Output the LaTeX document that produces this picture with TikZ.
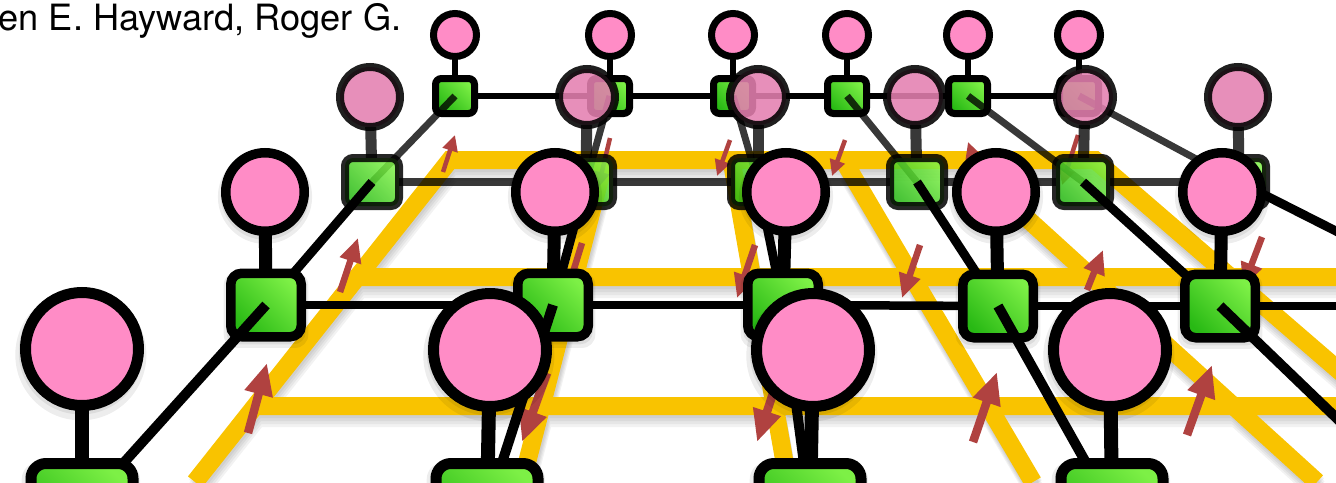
\documentclass[tikz,border=0pt]{standalone}
\usepackage{fontspec}
\setmainfont{TeX Gyre Heros}
\usetikzlibrary{arrows.meta,shadows}
\definecolor{pinkc}{RGB}{255,140,198}
\definecolor{pinkb}{RGB}{228,128,176}
\definecolor{yel}{RGB}{249,195,0}
\definecolor{redc}{RGB}{176,66,64}
\definecolor{gdark}{RGB}{40,185,20}
\definecolor{glight}{RGB}{125,240,70}
\pgfdeclarelayer{yl}
\pgfdeclarelayer{rA}\pgfdeclarelayer{nA}\pgfdeclarelayer{lAB}
\pgfdeclarelayer{rB}\pgfdeclarelayer{nB}\pgfdeclarelayer{lBC}
\pgfdeclarelayer{rC}\pgfdeclarelayer{nC}\pgfdeclarelayer{lCD}
\pgfdeclarelayer{rD}\pgfdeclarelayer{nD}
\pgfsetlayers{yl,rA,nA,lAB,rB,nB,lBC,rC,nC,lCD,rD,nD,main}
\newcommand{\ylat}{(195,482) -- (450,160) -- (1095,160) -- (1468,482)
  (357,277) -- (1360,277) (255,406) -- (1360,406)
  (604,163) -- (522,482) (732,163) -- (788,482)
  (845,163) -- (1033,482) (966,163) -- (1317,482)}
\begin{document}
\begin{tikzpicture}[x=1pt,y=-1pt,
  sq/.style={rectangle,draw=black,shading=axis,bottom color=gdark,top color=glight,shading angle=-45,inner sep=0pt,outer sep=0pt},
  ci/.style={circle,draw=black,fill=pinkc,inner sep=0pt,outer sep=0pt},
  shC/.style={general shadow={fill=black,opacity=0.07,shadow scale=1.2,shadow yshift=-4pt},
              general shadow={fill=black,opacity=0.07,shadow scale=1.13,shadow yshift=-3pt}},
  shD/.style={general shadow={fill=black,opacity=0.07,shadow scale=1.16,shadow xshift=-1pt,shadow yshift=-5pt},
              general shadow={fill=black,opacity=0.07,shadow scale=1.1,shadow xshift=-1pt,shadow yshift=-3pt}},
  sqA/.style={sq,minimum width=39pt,minimum height=35pt,line width=7pt,rounded corners=6pt},
  ciA/.style={ci,minimum size=43pt,line width=7pt},
  sqB/.style={sq,minimum width=54pt,minimum height=48pt,line width=8pt,rounded corners=8pt,opacity=0.85},
  ciB/.style={ci,fill=pinkb,minimum size=56pt,line width=8pt,opacity=0.88},
  sqC/.style={sq,minimum width=70.5pt,minimum height=63.5pt,line width=9.5pt,rounded corners=11pt,shC},
  ciC/.style={ci,minimum size=78.5pt,line width=9.5pt,shC},
  sqD/.style={sq,minimum width=102pt,minimum height=91pt,line width=11pt,rounded corners=15pt,shD},
  ciD/.style={ci,minimum size=113pt,line width=11pt,shD},
  rowA/.style={line width=6pt,black},
  stemA/.style={line width=6pt,black},
  lnAB/.style={line width=7pt,black,opacity=0.78},
  rowB/.style={line width=8pt,black,opacity=0.78},
  stemB/.style={line width=11pt,black,opacity=0.78},
  lnBC/.style={line width=9pt,black},
  rowC/.style={line width=8.5pt,black},
  stemC/.style={line width=13pt,black},
  lnCD/.style={line width=10pt,black},
  stemD/.style={line width=14pt,black},
  arrS/.style={draw=redc,line width=4.5pt,-{Triangle[length=16pt,width=15pt]}},
  arrM/.style={draw=redc,line width=6.5pt,-{Triangle[length=24pt,width=21pt]}},
  arrF/.style={draw=redc,line width=8.5pt,-{Triangle[length=32pt,width=27pt]}}
]
\useasboundingbox (0,0) rectangle (1336,482);

% ---------- yellow lattice and arrows
\begin{pgfonlayer}{yl}
\foreach \dx/\dy in {1pt/3pt,1.5pt/6pt,2pt/9pt,2.5pt/12pt}{
  \draw[black,opacity=0.05,line width=18pt,line join=miter,xshift=\dx,yshift=-\dy] \ylat;
}
\draw[yel,line width=18pt,line join=miter] \ylat;
\draw[arrS] (443,172) -- (455,135);
\draw[arrS] (610,138) -- (598,188);
\draw[arrS] (730,140) -- (717,176);
\draw[arrS] (845,140) -- (832,176);
\draw[arrS] (988,200) -- (968,142);
\draw[arrS] (1078,135) -- (1062,185);
\draw[arrM] (340,292) -- (358,238);
\draw[arrM] (582,243) -- (565,298);
\draw[arrM] (755,245) -- (737,298);
\draw[arrM] (920,245) -- (902,298);
\draw[arrM] (1087,290) -- (1103,250);
\draw[arrM] (1262,237) -- (1243,287);
\draw[arrF] (248,433) -- (267,363);
\draw[arrF] (547,373) -- (522,442);
\draw[arrF] (780,372) -- (757,442);
\draw[arrF] (973,442) -- (997,372);
\draw[arrF] (1187,435) -- (1212,365);
\end{pgfonlayer}

% ---------- nodes
\begin{pgfonlayer}{nA}
\foreach \n/\x in {1/455,2/610,3/733,4/847,5/968,6/1079}{
  \node[sqA] (sA\n) at (\x,96) {};
  \node[ciA] (cA\n) at (\x,35) {};
}
\end{pgfonlayer}
\begin{pgfonlayer}{nB}
\node[sqB] (sB1) at (372,182) {};
\node[sqB] (sB2) at (586,182) {};
\node[sqB] (sB3) at (758,182) {};
\node[sqB] (sB4) at (917,182) {};
\node[sqB] (sB5) at (1083,182) {};
\node[sqB] (sB6) at (1239,182) {};
\node[ciB,minimum size=60pt] (cB1) at (370,97) {};
\node[ciB] (cB2) at (587,97) {};
\node[ciB] (cB3) at (758,97) {};
\node[ciB] (cB4) at (915,97) {};
\node[ciB] (cB5) at (1085,97) {};
\node[ciB,minimum size=60pt] (cB6) at (1238,97) {};
\end{pgfonlayer}
\begin{pgfonlayer}{nC}
\node[sqC] (sC1) at (266,305) {};
\node[sqC] (sC2) at (553,305) {};
\node[sqC] (sC3) at (783,305) {};
\node[sqC] (sC4) at (998,306) {};
\node[sqC] (sC5) at (1220,306) {};
\node[ciC] (cC1) at (265,192) {};
\node[ciC] (cC2) at (555,192) {};
\node[ciC] (cC3) at (786,192) {};
\node[ciC] (cC4) at (996,192) {};
\node[ciC] (cC5) at (1222,192) {};
\end{pgfonlayer}
\coordinate (C6) at (1484,306);
\coordinate (D5) at (1430,508);
\begin{pgfonlayer}{nD}
\node[sqD] (sD1) at (82,509) {};
\node[sqD] (sD2) at (487,509) {};
\node[sqD] (sD3) at (810,509) {};
\node[sqD] (sD4) at (1112,509) {};
\node[ciD] (cD1) at (82,349) {};
\node[ciD] (cD2) at (490,350) {};
\node[ciD] (cD3) at (813,350) {};
\node[ciD] (cD4) at (1110,350) {};
\end{pgfonlayer}

% ---------- connectors
\begin{pgfonlayer}{rA}
\foreach \a/\b in {1/2,2/3,3/4,4/5,5/6} \draw[rowA] (sA\a) -- (sA\b);
\foreach \n in {1,...,6} \draw[stemA] (cA\n) -- (sA\n);
\end{pgfonlayer}
\begin{pgfonlayer}{lAB}
\foreach \n in {1,...,6} \draw[lnAB] (sA\n.center) -- (sB\n.center);
\end{pgfonlayer}
\begin{pgfonlayer}{rB}
\foreach \a/\b in {1/2,2/3,3/4,4/5,5/6} \draw[rowB] (sB\a) -- (sB\b);
\foreach \n in {1,...,6} \draw[stemB] (cB\n) -- (sB\n);
\end{pgfonlayer}
\begin{pgfonlayer}{lBC}
\foreach \n in {1,...,5} \draw[lnBC] (sB\n.center) -- (sC\n.center);
\draw[lnBC] (sB6.center) -- (C6);
\end{pgfonlayer}
\begin{pgfonlayer}{rC}
\foreach \a/\b in {1/2,2/3,3/4,4/5} \draw[rowC] (sC\a) -- (sC\b);
\draw[rowC] (sC5) -- (C6);
\foreach \n in {1,...,5} \draw[stemC] (cC\n) -- (sC\n);
\end{pgfonlayer}
\begin{pgfonlayer}{lCD}
\foreach \n in {1,...,4} \draw[lnCD] (sC\n.center) -- (sD\n.center);
\draw[lnCD] (sC5.center) -- (D5);
\end{pgfonlayer}
\begin{pgfonlayer}{rD}
\foreach \n in {1,...,4} \draw[stemD] (cD\n) -- (sD\n);
\end{pgfonlayer}

% ---------- text
\node[anchor=base west,inner sep=0pt,font=\fontsize{36.2}{40}\selectfont] (title) at (-1.5,30) {en E. Hayward, Roger G.};
\end{tikzpicture}
\end{document}
